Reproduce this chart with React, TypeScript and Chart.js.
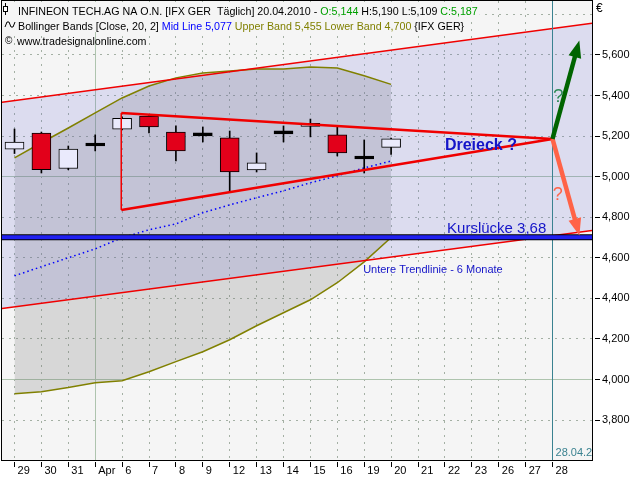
import React, { useEffect, useRef } from 'react';
import { Chart, registerables } from 'chart.js';

Chart.register(...registerables);

// ---- axis / tick labels ----
const xLabels = ['29', '30', '31', 'Apr', '6', '7', '8', '9', '12', '13', '14', '15', '16', '19', '20', '21', '22', '23', '26', '27', '28'];
const yTicks = [3800, 4000, 4200, 4400, 4600, 4800, 5000, 5200, 5400, 5600];
const gridLevels = [3800, 4000, 4200, 4400, 4600, 4800, 5000, 5200, 5400, 5600, 5800];
const majorLevels = [4000, 5000];
const monthStartIndex = 3;

// ---- OHLC (29.03.2010 - 20.04.2010) ----
const openP = [5135, 5215, 5040, 5151, 5234, 5299, 5220, 5201, 5191, 5033, 5211, 5248, 5206, 5087, 5144];
const highP = [5235, 5220, 5151, 5206, 5295, 5305, 5250, 5245, 5225, 5117, 5250, 5284, 5245, 5181, 5190];
const lowP = [5114, 5018, 5034, 5127, 5230, 5215, 5077, 5171, 4924, 5023, 5171, 5196, 5102, 5018, 5109];
const closeP = [5170, 5035, 5136, 5151, 5288, 5245, 5127, 5201, 5023, 5068, 5211, 5258, 5117, 5087, 5187];

// ---- Bollinger Bands (Close, 20, 2) ----
const upperBand = [5093, 5167, 5240, 5314, 5388, 5447, 5487, 5511, 5521, 5531, 5531, 5541, 5536, 5497, 5455];
const midLine = [4511, 4556, 4600, 4644, 4699, 4738, 4767, 4822, 4861, 4896, 4930, 4970, 5004, 5043, 5077];
const lowerBand = [3930, 3940, 3960, 3984, 3994, 4038, 4088, 4137, 4196, 4265, 4329, 4393, 4477, 4580, 4700];

// ---- scale ranges ----
const X_MIN = -0.4647;
const X_MAX = 21.468;
const Y_MIN = 3603;
const Y_MAX = 5866;

// ---- drawn objects ----
const channelX = [X_MIN, X_MAX];
const channelUpper = [5367, 5756];
const channelLower = [4350, 4735];
const triangleX = [3.97, 20];
const triangleUpper = [5314, 5186];
const triangleLower = [4836, 5186];
const gapLevel = 4701;
const markerX = 20;
const arrowX = [20, 20.84];
const arrowUp = [5186, 5595];
const arrowDown = [5186, 4786];

const FONT = '"Liberation Sans", Arial, sans-serif';
const fmt = (v: number) => v.toLocaleString('en-US');
const last = closeP.length - 1;

const annotations = [
  { text: 'Dreieck ?', x: 16.0, y: 5131, color: '#1414C8', font: `bold 16px ${FONT}` },
  { text: 'Kurslücke 3,68', x: 16.08, y: 4720, color: '#1414C8', font: `15px ${FONT}` },
  { text: 'Untere Trendlinie - 6 Monate', x: 12.96, y: 4527, color: '#1414C8', font: `11px ${FONT}` },
  { text: '?', x: 20.02, y: 5370, color: '#2E8B57', font: `19px ${FONT}` },
  { text: '?', x: 20.01, y: 4885, color: '#FF6347', font: `18px ${FONT}` },
];

const GREEN = '#00A000';
const legendRows = [
  [
    { t: 'INFINEON TECH.AG NA O.N. [IFX GER  Täglich] 20.04.2010 - ', c: '#000' },
    { t: `O:${fmt(openP[last])}`, c: GREEN },
    { t: ` H:${fmt(highP[last])} L:${fmt(lowP[last])} `, c: '#000' },
    { t: `C:${fmt(closeP[last])}`, c: GREEN },
  ],
  [
    { t: 'Bollinger Bands [Close, 20, 2] ', c: '#000' },
    { t: `Mid Line ${fmt(midLine[last])} `, c: '#0000FF' },
    { t: `Upper Band ${fmt(upperBand[last])} Lower Band ${fmt(lowerBand[last])} `, c: '#808000' },
    { t: '{IFX GER}', c: '#000' },
  ],
  [{ t: 'www.tradesignalonline.com', c: '#000' }],
];

const pts = (xs: number[], ys: number[]) => ys.map((y, i) => ({ x: xs[i], y }));

const customPlugin = {
  id: 'custom',
  beforeDraw(chart: any) {
    const { ctx, chartArea: a, scales } = chart;
    const xs = scales.x;
    const ys = scales.y;
    ctx.save();
    ctx.fillStyle = '#FFFFFF';
    ctx.fillRect(0, 0, chart.width, chart.height);
    ctx.fillStyle = '#F5F5F5';
    ctx.fillRect(a.left, a.top, a.right - a.left, a.bottom - a.top);
    ctx.lineWidth = 1;
    xLabels.forEach((_, i) => {
      const px = Math.floor(xs.getPixelForValue(i)) + 0.5;
      ctx.beginPath();
      if (i === monthStartIndex) {
        ctx.setLineDash([]);
        ctx.strokeStyle = '#AEC4AE';
      } else {
        ctx.setLineDash([2, 5]);
        ctx.strokeStyle = '#A4B0A4';
      }
      ctx.moveTo(px, a.top);
      ctx.lineTo(px, a.bottom);
      ctx.stroke();
    });
    gridLevels.forEach((v) => {
      const py = Math.floor(ys.getPixelForValue(v)) + 0.5;
      ctx.beginPath();
      if (majorLevels.includes(v)) {
        ctx.setLineDash([]);
        ctx.strokeStyle = '#AEC4AE';
      } else {
        ctx.setLineDash([2, 5]);
        ctx.strokeStyle = '#A4B0A4';
      }
      ctx.moveTo(a.left, py);
      ctx.lineTo(a.right, py);
      ctx.stroke();
    });
    ctx.restore();
  },
  afterDatasetsDraw(chart: any) {
    const { ctx, chartArea: a, scales } = chart;
    const xs = scales.x;
    const ys = scales.y;
    ctx.save();
    ctx.beginPath();
    ctx.rect(a.left, a.top, a.right - a.left, a.bottom - a.top);
    ctx.clip();

    // arrow heads
    const heads: [number, string][] = [
      [chart.data.datasets.findIndex((d: any) => d.label === 'Arrow up'), '#006400'],
      [chart.data.datasets.findIndex((d: any) => d.label === 'Arrow down'), '#FF6347'],
    ];
    heads.forEach(([di, color]) => {
      const meta = chart.getDatasetMeta(di);
      const p0 = meta.data[0];
      const p1 = meta.data[1];
      const dx = p1.x - p0.x;
      const dy = p1.y - p0.y;
      const len = Math.hypot(dx, dy);
      const ux = dx / len;
      const uy = dy / len;
      const hl = 16;
      const hw = 6.5;
      const bx = p1.x - ux;
      const by = p1.y - uy;
      ctx.beginPath();
      ctx.moveTo(p1.x + ux * hl, p1.y + uy * hl);
      ctx.lineTo(bx - uy * hw, by + ux * hw);
      ctx.lineTo(bx + uy * hw, by - ux * hw);
      ctx.closePath();
      ctx.fillStyle = color;
      ctx.fill();
    });

    // annotations
    ctx.textBaseline = 'alphabetic';
    ctx.textAlign = 'left';
    annotations.forEach((an) => {
      ctx.font = an.font;
      ctx.fillStyle = an.color;
      ctx.fillText(an.text, xs.getPixelForValue(an.x), ys.getPixelForValue(an.y));
    });

    // marker date label
    ctx.font = `11px ${FONT}`;
    ctx.fillStyle = '#3A8290';
    ctx.fillText('28.04.2', xs.getPixelForValue(markerX) + 3, a.bottom - 4);

    // legend rows
    ctx.font = `10.7px ${FONT}`;
    const baselines = [15, 30, 45];
    legendRows.forEach((row, r) => {
      const x0 = r === 2 ? 17 : 18;
      if (r < 2) {
        const w = row.reduce((s, seg) => s + ctx.measureText(seg.t).width, 0);
        ctx.fillStyle = '#F5F5F5';
        ctx.fillRect(a.left, baselines[r] - 13, x0 - a.left + w + 2, 15);
      }
      let x = x0;
      row.forEach((seg) => {
        ctx.fillStyle = seg.c;
        ctx.fillText(seg.t, x, baselines[r]);
        x += ctx.measureText(seg.t).width;
      });
    });
    // legend icons
    ctx.strokeStyle = '#000';
    ctx.lineWidth = 1;
    ctx.beginPath();
    ctx.moveTo(5.5, 3);
    ctx.lineTo(5.5, 15);
    ctx.stroke();
    ctx.fillStyle = '#FFF';
    ctx.fillRect(3.5, 6.5, 4, 5);
    ctx.strokeRect(3.5, 6.5, 4, 5);
    ctx.beginPath();
    ctx.moveTo(5, 27);
    ctx.lineTo(7, 22);
    ctx.lineTo(9, 22);
    ctx.lineTo(11, 27);
    ctx.lineTo(13, 27);
    ctx.lineTo(15, 22);
    ctx.stroke();
    ctx.fillStyle = '#000';
    ctx.font = `10px ${FONT}`;
    ctx.fillText('©', 5, 44);
    ctx.restore();
  },
  afterDraw(chart: any) {
    const { ctx, chartArea: a, scales } = chart;
    const xs = scales.x;
    const ys = scales.y;
    ctx.save();
    ctx.strokeStyle = '#000';
    ctx.lineWidth = 1;
    ctx.setLineDash([]);
    ctx.strokeRect(a.left - 0.5, a.top - 0.5, a.right - a.left + 1, a.bottom - a.top + 1);
    // tick marks
    ctx.beginPath();
    xs.ticks.forEach((t: any) => {
      const px = Math.floor(xs.getPixelForValue(t.value)) + 0.5;
      ctx.moveTo(px, a.bottom + 2);
      ctx.lineTo(px, a.bottom + 7);
    });
    ys.ticks.forEach((t: any) => {
      const py = Math.floor(ys.getPixelForValue(t.value)) + 0.5;
      ctx.moveTo(a.right + 3, py);
      ctx.lineTo(a.right + 8, py);
    });
    ctx.stroke();
    ctx.fillStyle = '#000';
    ctx.font = `12px ${FONT}`;
    ctx.textAlign = 'left';
    ctx.textBaseline = 'alphabetic';
    ctx.fillText('€', 596, 12);
    ctx.restore();
  },
};

export default function App() {
  const ref = useRef<HTMLCanvasElement>(null);
  useEffect(() => {
    document.body.style.margin = '0';
    const canvas = ref.current;
    if (!canvas) return;
    Chart.defaults.font.family = FONT;
    Chart.defaults.font.size = 11;
    Chart.defaults.color = '#000';
    const idx = upperBand.map((_, i) => i);
    const candleIdx = openP.map((_, i) => i);
    const bodyColors = candleIdx.map((i) =>
      closeP[i] > openP[i] ? '#EAEAFC' : closeP[i] < openP[i] ? '#E2001A' : '#000000'
    );
    const chart = new Chart(canvas, {
      type: 'line',
      data: {
        datasets: [
          { label: 'Upper Band', data: pts(idx, upperBand), borderColor: '#808000', borderWidth: 1.5, backgroundColor: 'rgba(110,110,110,0.22)', fill: 1, order: 100 } as any,
          { label: 'Lower Band', data: pts(idx, lowerBand), borderColor: '#808000', borderWidth: 1.5, fill: false, order: 99 },
          { label: 'Channel upper', data: pts(channelX, channelUpper), borderColor: '#F00000', borderWidth: 1.5, backgroundColor: 'rgba(98,98,215,0.17)', fill: 3, order: 98 },
          { label: 'Channel lower', data: pts(channelX, channelLower), borderColor: '#F00000', borderWidth: 1.5, fill: false, order: 97 },
          { label: 'Mid Line', data: pts(idx, midLine), borderColor: '#0000FF', borderWidth: 1.5, borderDash: [1.5, 3], fill: false, order: 96 },
          { label: 'Marker', data: pts([markerX, markerX], [Y_MIN, Y_MAX]), borderColor: '#3A8290', borderWidth: 1, fill: false, order: 95 },
          { label: 'Gap outline', data: pts(channelX, [gapLevel, gapLevel]), borderColor: '#000000', borderWidth: 6, fill: false, order: 94 },
          { label: 'Gap', data: pts(channelX, [gapLevel, gapLevel]), borderColor: '#2020F0', borderWidth: 4, fill: false, order: 93 },
          { type: 'bar', label: 'Wicks', data: candleIdx.map((i) => ({ x: i, y: [lowP[i], highP[i]] })), backgroundColor: '#000000', borderWidth: 0, barThickness: 1, grouped: false, order: 92 } as any,
          { type: 'bar', label: 'Bodies', data: candleIdx.map((i) => ({ x: i, y: [openP[i], closeP[i]] })), backgroundColor: bodyColors, borderColor: '#000000', borderWidth: 1, borderSkipped: false, barThickness: 19, minBarLength: 3, grouped: false, order: 91 } as any,
          { label: 'Triangle upper', data: pts(triangleX, triangleUpper), borderColor: '#F00000', borderWidth: 2.5, fill: false, order: 90 },
          { label: 'Triangle lower', data: pts(triangleX, triangleLower), borderColor: '#F00000', borderWidth: 2.5, fill: false, order: 90 },
          { label: 'Triangle side', data: pts([triangleX[0], triangleX[0]], [triangleUpper[0], triangleLower[0]]), borderColor: '#F00000', borderWidth: 1, fill: false, order: 90 },
          { label: 'Arrow up', data: pts(arrowX, arrowUp), borderColor: '#006400', borderWidth: 4.5, fill: false, order: 89 },
          { label: 'Arrow down', data: pts(arrowX, arrowDown), borderColor: '#FF6347', borderWidth: 4.5, fill: false, order: 89 },
        ],
      },
      options: {
        animation: false,
        responsive: false,
        devicePixelRatio: 1,
        events: [],
        layout: { padding: { left: 2, top: 1, right: 0, bottom: 0 } },
        elements: { point: { radius: 0 }, line: { tension: 0 } },
        plugins: {
          legend: { display: false },
          tooltip: { enabled: false },
          filler: { drawTime: 'beforeDatasetsDraw' } as any,
        },
        scales: {
          x: {
            type: 'linear',
            min: X_MIN,
            max: X_MAX,
            offset: false,
            bounds: 'data',
            afterBuildTicks: (s: any) => {
              s.ticks = xLabels.map((_, i) => ({ value: i }));
            },
            afterFit: (s: any) => {
              s.height = 20;
              s.paddingLeft = 0;
              s.paddingRight = 0;
            },
            ticks: {
              autoSkip: false,
              maxRotation: 0,
              minRotation: 0,
              align: 'start',
              padding: -3,
              color: '#000',
              font: { size: 11 },
              callback: (_v: any, i: number) => ' ' + xLabels[i],
            },
            grid: { display: true, drawOnChartArea: false, drawTicks: true, tickLength: 7, tickColor: 'rgba(0,0,0,0)' },
            border: { display: false },
          },
          y: {
            type: 'linear',
            position: 'right',
            min: Y_MIN,
            max: Y_MAX,
            bounds: 'data',
            afterBuildTicks: (s: any) => {
              s.ticks = yTicks.map((v) => ({ value: v }));
            },
            afterFit: (s: any) => {
              s.width = 48;
              s.paddingTop = 0;
              s.paddingBottom = 0;
            },
            ticks: {
              padding: 2,
              color: '#000',
              font: { size: 11 },
              callback: (v: any) => fmt(Number(v)),
            },
            grid: { display: true, drawOnChartArea: false, drawTicks: true, tickLength: 8, tickColor: 'rgba(0,0,0,0)' },
            border: { display: false },
          },
        },
      },
      plugins: [customPlugin],
    } as any);
    return () => chart.destroy();
  }, []);
  return <canvas ref={ref} width={640} height={480} style={{ display: 'block' }} />;
}
